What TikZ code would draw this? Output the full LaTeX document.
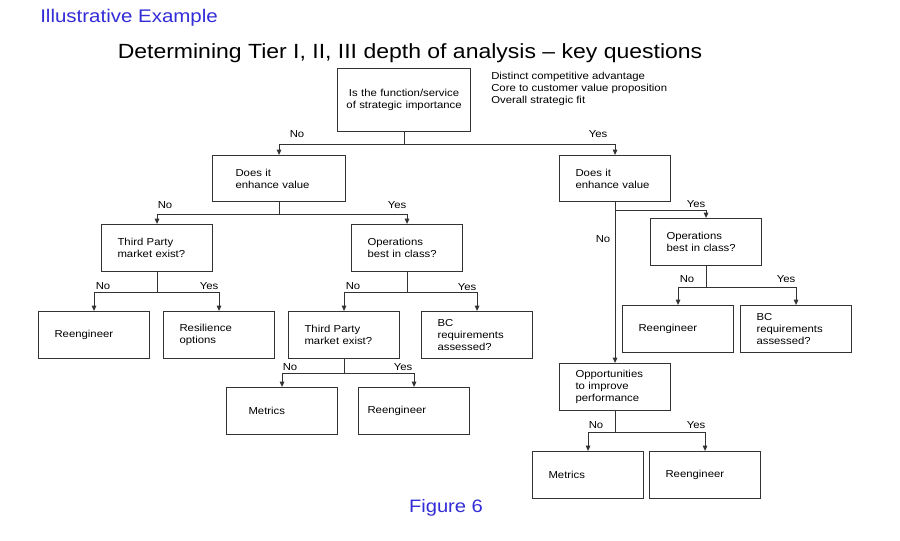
\documentclass[tikz,border=0pt]{standalone}
\usepackage{fontspec}
\setmainfont[FakeStretch=1.12]{Liberation Sans}
\usetikzlibrary{arrows.meta}

\definecolor{titleblue}{RGB}{51,45,215}
\definecolor{linegray}{RGB}{50,50,50}

\begin{document}
\begin{tikzpicture}[x=0.025cm, y=-0.025cm,
  font=\fontsize{7.2}{8.5}\selectfont,
  qbox/.style={draw=linegray, line width=0.75pt, anchor=north west,
    minimum height=1.175cm, inner ysep=0pt, inner xsep=0.4cm,
    text width=1.975cm, align=left},
  widebox/.style={qbox, text width=2.175cm, inner xsep=0.575cm},
  ans/.style={inner sep=0pt},
  arrow/.style={-{Triangle[length=3.8pt,width=3.2pt]}, draw=linegray,
    line width=0.75pt},
  heading/.style={text=titleblue, inner sep=0pt},
]
  \fill[white] (0,0) rectangle (900,540);
  \path[use as bounding box] (0,0) rectangle (900,540);

  % Headings
  \node[heading, anchor=west, font=\fontsize{13}{15}\selectfont] (illus) at (40,18) {Illustrative Example};
  \node[inner sep=0pt, font=\fontsize{14.6}{16}\selectfont] (title) at (410,53) {Determining Tier I, II, III depth of analysis – key questions};
  \node[heading, font=\fontsize{12.8}{14}\selectfont] (fig) at (446,508) {Figure 6};

  % Root question
  \node[qbox, minimum height=1.575cm, inner xsep=0.1cm, text width=3.125cm,
    align=center] (isfunc) at (337,68) {Is the function/service\\of strategic importance};
  \node[anchor=west, inner sep=0pt, align=left] (crit) at (491,89)
    {Distinct competitive advantage\\Core to customer value proposition\\Overall strategic fit};

  % Left branch
  \node[widebox, minimum height=1.15cm] (enhL) at (212,155) {Does it\\enhance value};
  \node[qbox] (tpL)    at (101,224) {Third Party\\market exist?};
  \node[qbox] (opsM)   at (351,224) {Operations\\best in class?};
  \node[qbox] (reengL) at (38,311)  {Reengineer};
  \node[qbox] (resil)  at (163,311) {Resilience\\options};
  \node[qbox] (tpM)    at (288,311) {Third Party\\market exist?};
  \node[qbox] (bcM)    at (421,311) {BC\\requirements\\assessed?};
  \node[qbox, inner xsep=0.55cm, text width=1.675cm] (metM) at (226,387) {Metrics};
  \node[qbox, inner xsep=0.225cm, text width=2.325cm] (reengM) at (358,387) {Reengineer};

  % Right branch
  \node[qbox, minimum height=1.15cm] (enhR) at (559,155) {Does it\\enhance value};
  \node[qbox] (opsR)   at (650,218) {Operations\\best in class?};
  \node[qbox] (reengR) at (622,305) {Reengineer};
  \node[qbox] (bcR)    at (740,305) {BC\\requirements\\assessed?};
  \node[qbox] (opport) at (559,363) {Opportunities\\to improve\\performance};
  \node[qbox] (metR)   at (532,451) {Metrics};
  \node[qbox] (reengB) at (649,451) {Reengineer};

  % Branches
  \foreach \a/\b/\d in {isfunc/enhL/12, isfunc/enhR/12,
                        enhL/tpL/12, enhL/opsM/12,
                        tpL/reengL/20, tpL/resil/20,
                        opsM/tpM/20, opsM/bcM/20,
                        tpM/metM/14, tpM/reengM/14,
                        enhR/opsR/8,
                        opsR/reengR/21, opsR/bcR/21,
                        opport/metR/21, opport/reengB/21}
    \draw[arrow] (\a.south) -- ++(0,\d) -| (\b.north);
  \draw[arrow] (enhR.south) -- (opport.north);

  % Answers
  \node[ans] (no1)  at (297,134) {No};
  \node[ans] (yes1) at (598,134) {Yes};
  \node[ans] (no2)  at (165,205) {No};
  \node[ans] (yes2) at (397,205) {Yes};
  \node[ans] (no3)  at (103,286) {No};
  \node[ans] (yes3) at (209,286) {Yes};
  \node[ans] (no4)  at (353,286) {No};
  \node[ans] (yes4) at (467,287) {Yes};
  \node[ans] (no5)  at (290,367) {No};
  \node[ans] (yes5) at (403,367) {Yes};
  \node[ans] (yes6) at (696,204) {Yes};
  \node[ans] (no6)  at (603,239) {No};
  \node[ans] (no7)  at (687,279) {No};
  \node[ans] (yes7) at (786,279) {Yes};
  \node[ans] (no8)  at (596,425) {No};
  \node[ans] (yes8) at (696,425) {Yes};
\end{tikzpicture}
\end{document}
